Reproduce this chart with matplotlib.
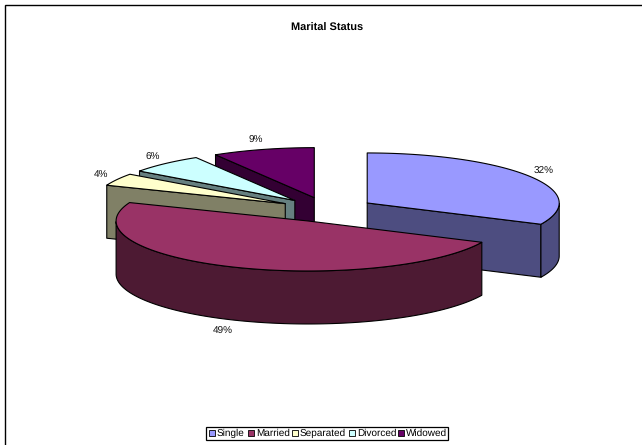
import numpy as np
import matplotlib
matplotlib.use("Agg")
import matplotlib.pyplot as plt
from matplotlib.patches import Rectangle

categories = ["Single", "Married", "Separated", "Divorced", "Widowed"]
percent = [32, 49, 4, 6.4, 8.6]
colors = ["#9999FF", "#993366", "#FFFFCC", "#CCFFFF", "#660066"]
dark = ["#4D4D80", "#4D1A33", "#808066", "#668080", "#330033"]
title = "Marital Status"

W, H = 642, 445
CX, CY, A, B, DEPTH, EXPLODE = 327, 209.6, 192, 50, 53, 0.248
plt.rcParams["font.family"] = ["Liberation Sans", "DejaVu Sans"]
plt.rcParams["text.hinting"] = "no_hinting"
plt.rcParams["text.hinting_factor"] = 1

fig = plt.figure(figsize=(W / 100, H / 100), dpi=100)
ax = fig.add_axes([0, 0, 1, 1])
ax.set_xlim(0, W)
ax.set_ylim(H, 0)
ax.axis("off")

# chart-area border: only the top and left edges are visible
ax.plot([4.5, 4.5, W], [H, 4.5, 4.5], color="black", lw=1.0, zorder=0, solid_joinstyle="miter")

vals = np.array(percent, float)
edges = np.concatenate([[0], np.cumsum(vals) / vals.sum() * 2 * np.pi])


def pt(apex, t):
    return apex[0] + A * np.sin(t), apex[1] - B * np.cos(t)


def wall(p, q, color, z):
    xs = [p[0], q[0], q[0], p[0]]
    ys = [p[1], q[1], q[1] + DEPTH, p[1] + DEPTH]
    ax.fill(xs, ys, fc=color, ec="black", lw=0.8, zorder=z, joinstyle="round")


order = [4, 3, 2, 0, 1]
for z, i in enumerate(order):
    t0, t1 = edges[i], edges[i + 1]
    mid = (t0 + t1) / 2
    apex = (CX + EXPLODE * A * np.sin(mid), CY - EXPLODE * B * np.cos(mid))
    ts = np.linspace(t0, t1, 200)
    ax_, ay_ = pt(apex, ts)
    base = 10 * z + 1
    # radial cut face that looks towards the viewer
    if i == 0:
        wall(apex, pt(apex, t1), dark[i], base)
    elif i != 1:
        wall(pt(apex, t0), apex, dark[i], base)
    # outer rim where the arc faces the viewer
    mask = (ts > np.pi / 2) & (ts < 3 * np.pi / 2)
    if mask.any():
        rx, ry = ax_[mask], ay_[mask]
        ax.fill(np.r_[rx, rx[::-1]], np.r_[ry, ry[::-1] + DEPTH],
                fc=dark[i], ec="black", lw=0.8, zorder=base + 1)
    # top face
    ax.fill(np.r_[apex[0], ax_], np.r_[apex[1], ay_], fc=colors[i], ec="black",
            lw=0.8, zorder=base + 2, joinstyle="round")
    # percentage label
    lx = apex[0] + 1.09 * A * np.sin(mid) - 4 * (1 - abs(np.sin(mid)))
    ly = apex[1] - 1.22 * B * np.cos(mid) + 1.5
    if np.cos(mid) < 0 and abs(np.sin(mid)) < 0.5:
        ly += DEPTH
    ax.text(lx, ly, f"{percent[i]:.0f}%", ha="center", va="center", fontsize=6.9,
            color="#111111", zorder=100)

ax.text(CX, 28, title, ha="center", va="center", fontsize=7.8, fontweight="bold", zorder=100)

# legend
ax.add_patch(Rectangle((206, 426.5), 242, 13, fc="white", ec="black", lw=0.9, zorder=101))
swatch_x = [209, 248, 292, 349, 398]
for x, name, c in zip(swatch_x, categories, colors):
    ax.add_patch(Rectangle((x, 430), 6, 6, fc=c, ec="black", lw=0.6, zorder=102))
    ax.text(x + 8, 433, name, ha="left", va="center", fontsize=6.9, zorder=102)

fig.savefig("out.png", dpi=100, facecolor="white")
